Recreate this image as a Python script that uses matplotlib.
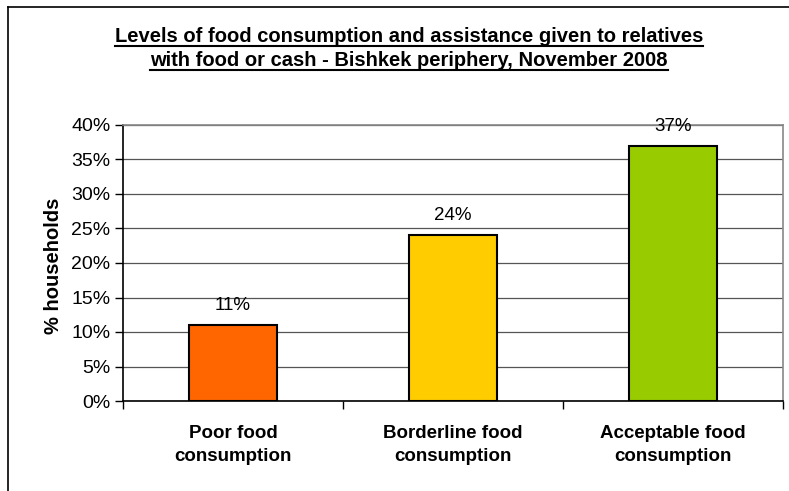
import matplotlib.pyplot as plt
from matplotlib.lines import Line2D
from matplotlib.ticker import PercentFormatter

plt.rcParams['font.family'] = ['Liberation Sans', 'DejaVu Sans']

# survey results
categories = ['Poor food\nconsumption', 'Borderline food\nconsumption', 'Acceptable food\nconsumption']
shares = [11, 24, 37]
colors = ['#ff6600', '#ffcc00', '#99cc00']
title_lines = ['Levels of food consumption and assistance given to relatives',
               'with food or cash - Bishkek periphery, November 2008']

W, H = 789, 491
fig = plt.figure(figsize=(W / 100, H / 100), dpi=100)
ax = fig.add_axes([123 / W, 1 - 401 / H, 660 / W, 276 / H])

x = range(len(categories))
ax.bar(x, shares, width=0.4, color=colors, edgecolor='black', linewidth=1.5, zorder=3)
for xi, v in zip(x, shares):
    ax.annotate(f'{v}%', (xi, v), xytext=(0, 8), textcoords='offset points',
                ha='center', va='bottom', fontsize=13.5, zorder=4)

ax.set_xlim(-0.5, len(categories) - 0.5)
ax.set_ylim(0, 40)
ax.set_yticks(range(0, 41, 5))
ax.yaxis.set_major_formatter(PercentFormatter(decimals=0))
ax.grid(axis='y', color='#555555', linewidth=0.9, zorder=0)

ax.set_xticks(x)
ax.set_xticklabels(categories, fontsize=13.5, fontweight='bold', linespacing=1.5)
ax.set_xticks([-0.5, 0.5, 1.5, 2.5], minor=True)
ax.tick_params(axis='x', which='major', length=0, pad=17)
ax.tick_params(axis='x', which='minor', length=6, width=1, color='black', direction='out')
ax.tick_params(axis='y', length=6, width=1, color='black', direction='out', labelsize=14, pad=3)

for s in ['left', 'bottom']:
    ax.spines[s].set_color('black')
    ax.spines[s].set_linewidth(1.2)
for s in ['top', 'right']:
    ax.spines[s].set_color('#888888')
    ax.spines[s].set_linewidth(1.2)

ax.set_ylabel('% households', fontsize=14.5, fontweight='bold')
ax.yaxis.set_label_coords(-0.091, 0.49)

# chart border (left and top edges visible)
fig.add_artist(Line2D([8 / W, 8 / W], [0, 1 - 7 / H], color='black', lw=1.2))
fig.add_artist(Line2D([8 / W, 1], [1 - 7 / H, 1 - 7 / H], color='black', lw=1.2))

# underlined two-line title
fig.canvas.draw()
renderer = fig.canvas.get_renderer()
for line, ypix in zip(title_lines, [37, 61]):
    t = fig.text(409 / W, 1 - ypix / H, line, ha='center', va='center',
                 fontsize=14.5, fontweight='bold')
    bb = t.get_window_extent(renderer=renderer)
    yu = (bb.y0 + 1) / H
    fig.add_artist(Line2D([bb.x0 / W, bb.x1 / W], [yu, yu], color='black', lw=1.5))

fig.savefig('out.png', dpi=100)
